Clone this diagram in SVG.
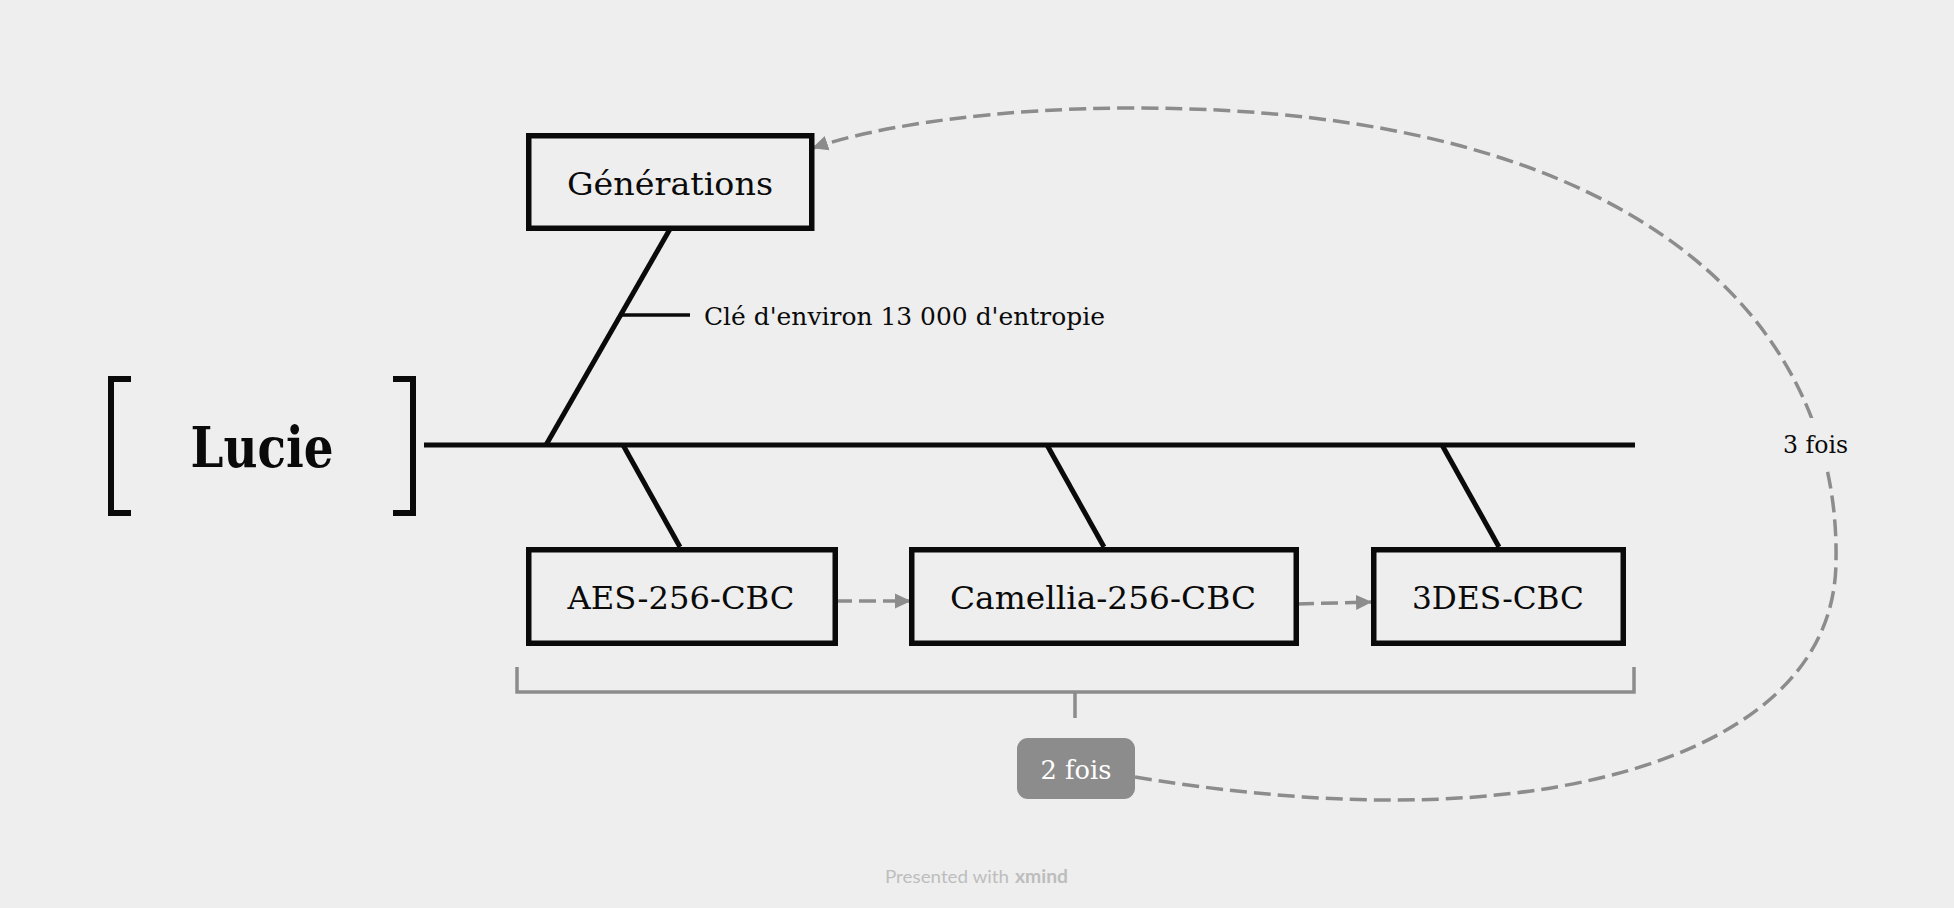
<svg xmlns="http://www.w3.org/2000/svg" width="1954" height="908" viewBox="0 0 1954 908">
  <defs>
    <style>
      .bg { fill: #eeeeee; }
      .box { fill: #eeeeee; stroke: #0a0a0a; stroke-width: 5.5; }
      .line { fill: none; stroke: #0a0a0a; stroke-width: 5; }
      .thin { fill: none; stroke: #0a0a0a; stroke-width: 3.5; }
      .rel { fill: none; stroke: #8c8c8c; stroke-width: 3.5; stroke-dasharray: 17 7; }
      .sum { fill: none; stroke: #8c8c8c; stroke-width: 3.5; }
      .t { font-family: "DejaVu Serif", "Liberation Serif", serif; fill: #0a0a0a; }
      .node { font-size: 32px; text-anchor: middle; }
    </style>
    <marker id="arr" markerUnits="userSpaceOnUse" viewBox="0 -8 16 16" markerWidth="16" markerHeight="16" refX="15" refY="0" orient="auto">
      <path d="M0,-7.5 L16,0 L0,7.5 Z" fill="#8c8c8c"/>
    </marker>
  </defs>

  <rect class="bg" x="0" y="0" width="1954" height="908"/>

  <g id="connectors">
    <path class="line" d="M424,445 H1635"/>
    <path class="line" d="M670,229 L546,445"/>
    <path class="thin" d="M621,315 H690"/>
    <path class="line" d="M623,445 L680,547"/>
    <path class="line" d="M1047,445 L1104,547"/>
    <path class="line" d="M1442,445 L1499,547"/>
    <path class="rel" d="M835,601 H910" marker-end="url(#arr)"/>
    <path class="rel" d="M1297,604 L1371,602" marker-end="url(#arr)"/>
    <path class="rel" d="M1135,777 C1200,788 1300,800 1385,800 C1620,802 1836,730 1836,560 C1840,330 1650,108 1134,108 C1000,108 880,125 813,148" marker-end="url(#arr)"/>
  </g>

  <g id="central-lucie">
    <path class="line" style="stroke-width:6" d="M131,379 H111 V513 H131"/>
    <path class="line" style="stroke-width:6" d="M393,379 H413 V513 H393"/>
    <text class="t" x="262" y="467" font-size="56" font-weight="bold" text-anchor="middle" textLength="143" lengthAdjust="spacingAndGlyphs">Lucie</text>
  </g>

  <g id="node-generations">
    <rect class="box" x="528.75" y="135.75" width="283" height="92.5"/>
    <text class="t node" x="670" y="195" textLength="206" lengthAdjust="spacingAndGlyphs">Générations</text>
  </g>

  <g id="label-cle">
    <text class="t" x="704" y="325" font-size="24" textLength="401" lengthAdjust="spacingAndGlyphs">Clé d'environ 13 000 d'entropie</text>
  </g>

  <g id="node-aes">
    <rect class="box" x="528.75" y="549.75" width="306.5" height="93.5"/>
    <text class="t node" x="681" y="609" textLength="227" lengthAdjust="spacingAndGlyphs">AES-256-CBC</text>
  </g>

  <g id="node-camellia">
    <rect class="box" x="911.75" y="549.75" width="384.5" height="93.5"/>
    <text class="t node" x="1103" y="609" textLength="306" lengthAdjust="spacingAndGlyphs">Camellia-256-CBC</text>
  </g>

  <g id="node-3des">
    <rect class="box" x="1373.75" y="549.75" width="249.5" height="93.5"/>
    <text class="t node" x="1498" y="609" textLength="172" lengthAdjust="spacingAndGlyphs">3DES-CBC</text>
  </g>

  <g id="summary">
    <path class="sum" d="M517,667 V692 H1634 V667 M1075,692 V718"/>
  </g>

  <g id="label-2fois">
    <rect x="1017" y="738" width="118" height="61" rx="11" fill="#8c8c8c"/>
    <text class="t" x="1076" y="779" font-size="26" fill="#ffffff" style="fill:#ffffff" text-anchor="middle" textLength="71" lengthAdjust="spacingAndGlyphs">2 fois</text>
  </g>

  <g id="label-3fois">
    <rect class="bg" x="1776" y="418" width="80" height="48"/>
    <text class="t" x="1815.5" y="453" font-size="25" text-anchor="middle" textLength="65" lengthAdjust="spacingAndGlyphs">3 fois</text>
  </g>

  <g id="watermark">
    <text x="885" y="883" font-family="Lato, 'Open Sans', sans-serif" font-size="18" fill="#bdbdbd"><tspan x="885" textLength="124" lengthAdjust="spacingAndGlyphs">Presented with</tspan><tspan x="1015" font-weight="bold" textLength="53" lengthAdjust="spacingAndGlyphs">xmind</tspan></text>
  </g>
</svg>
